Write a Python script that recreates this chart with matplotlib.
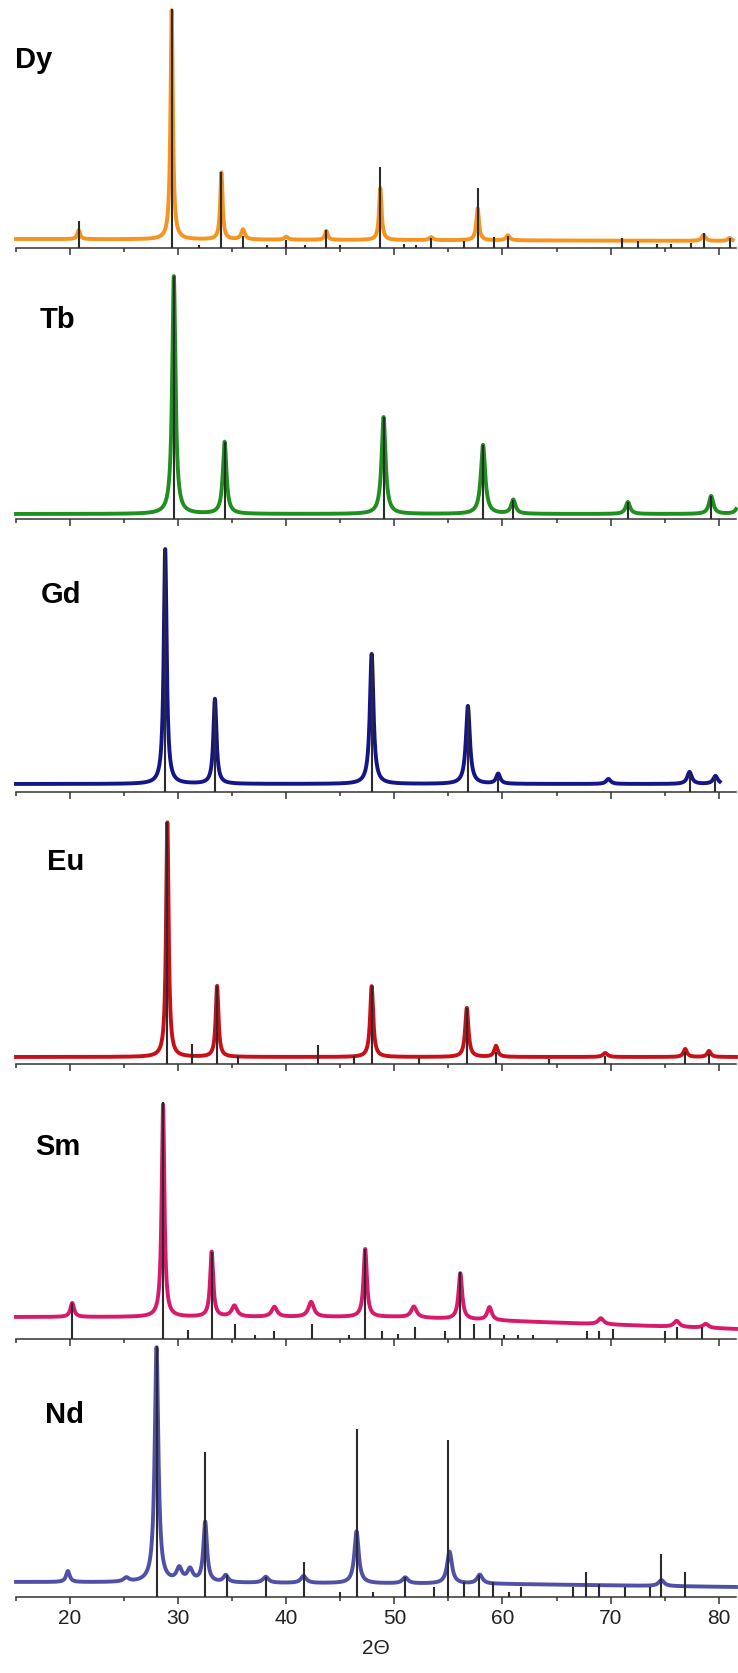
import matplotlib
matplotlib.use("Agg")
import matplotlib.pyplot as plt
import numpy as np

plt.rcParams["font.family"] = ["Liberation Sans", "DejaVu Sans"]

# ---- data (heights in px above each panel's axis line) ----
names = ["Dy", "Tb", "Gd", "Eu", "Sm", "Nd"]
colors = ["#f7941d", "#1f8f1f", "#15158a", "#c81018", "#d81a6c", "#5050a8"]

# baseline knots (2theta, level)
dy_base_x, dy_base_y = [15, 81.3], [9, 7]
tb_base_x, tb_base_y = [15, 81.6], [5, 5]
gd_base_x, gd_base_y = [15, 80.1], [8, 8]
eu_base_x, eu_base_y = [15, 81.6], [7, 7]
sm_base_x, sm_base_y = [15, 50, 81.6], [22, 22, 10]
nd_base_x, nd_base_y = [15, 60, 81.6], [15, 13, 10]

# measured peaks: position, height above background, half width
dy_pk_x = [20.8, 29.4, 34.0, 36.0, 40.0, 43.7, 48.7, 53.4, 57.7, 60.5, 78.6, 81.0]
dy_pk_h = [9, 230, 67, 10, 3, 9, 52, 3, 32, 5, 6, 3]
dy_pk_w = [0.15, 0.13, 0.13, 0.2, 0.2, 0.15, 0.14, 0.2, 0.15, 0.2, 0.2, 0.2]

tb_pk_x = [29.6, 34.3, 49.0, 58.2, 61.0, 71.6, 79.3, 81.9]
tb_pk_h = [238, 72, 97, 69, 14, 12, 18, 12]
tb_pk_w = [0.18, 0.2, 0.22, 0.24, 0.24, 0.24, 0.24, 0.24]

gd_pk_x = [28.8, 33.4, 47.9, 56.8, 59.6, 69.8, 77.3, 79.7]
gd_pk_h = [235, 85, 130, 78, 10, 5, 12, 8]
gd_pk_w = [0.16, 0.17, 0.2, 0.22, 0.22, 0.25, 0.25, 0.25]

eu_pk_x = [29.0, 33.6, 47.9, 56.7, 59.4, 69.5, 76.9, 79.1]
eu_pk_h = [235, 71, 71, 49, 11, 4, 8, 6]
eu_pk_w = [0.14, 0.15, 0.17, 0.18, 0.2, 0.25, 0.2, 0.2]

sm_pk_x = [20.2, 28.6, 33.1, 35.2, 38.9, 42.3, 47.3, 51.8, 56.1, 58.8, 69.1, 76.1, 78.8]
sm_pk_h = [14, 213, 65, 11, 10, 15, 68, 11, 46, 13, 6, 6, 4]
sm_pk_w = [0.2, 0.15, 0.17, 0.3, 0.3, 0.3, 0.18, 0.3, 0.2, 0.25, 0.3, 0.3, 0.3]

nd_pk_x = [19.8, 25.2, 28.0, 30.1, 31.1, 32.5, 34.4, 38.1, 41.6, 46.5, 51.0, 55.1, 57.9, 74.7]
nd_pk_h = [11, 4, 235, 13, 12, 60, 7, 6, 7, 52, 6, 32, 9, 6]
nd_pk_w = [0.2, 0.3, 0.2, 0.3, 0.3, 0.2, 0.25, 0.3, 0.3, 0.24, 0.3, 0.27, 0.3, 0.3]

# reference pattern sticks: position, height
dy_st_x = [20.8, 29.4, 31.9, 34.0, 36.0, 38.2, 40.0, 41.7, 43.7, 45.0, 48.7, 50.9, 52.0,
           53.4, 56.4, 57.7, 59.2, 60.5, 71.1, 72.5, 74.3, 75.6, 77.4, 78.6, 81.0]
dy_st_h = [27, 239, 3, 76, 12, 3, 8, 3, 18, 3, 81, 4, 3,
           10, 7, 60, 11, 12, 10, 7, 4, 4, 5, 15, 10]

tb_st_x = [29.6, 34.3, 49.0, 58.2, 61.0, 71.6, 79.3]
tb_st_h = [243, 77, 102, 74, 19, 17, 23]

gd_st_x = [28.8, 33.4, 47.9, 56.8, 59.6, 77.3, 79.7]
gd_st_h = [243, 93, 138, 86, 15, 18, 14]

eu_st_x = [29.0, 31.3, 33.6, 35.5, 42.9, 46.3, 47.9, 52.3, 56.7, 59.4, 64.3, 69.5, 76.9, 79.1]
eu_st_h = [242, 20, 78, 8, 19, 8, 78, 6, 56, 12, 5, 8, 12, 10]

sm_st_x = [20.2, 28.6, 30.9, 33.1, 35.3, 37.1, 38.9, 42.4, 45.8, 47.3, 48.9, 50.3, 51.9,
           54.7, 56.1, 57.4, 58.8, 60.1, 61.4, 62.8, 67.8, 68.9, 70.2, 75.0, 76.1, 78.5]
sm_st_h = [36, 237, 9, 87, 15, 4, 8, 15, 4, 90, 8, 5, 12,
           8, 67, 15, 15, 4, 4, 4, 8, 8, 10, 8, 12, 12]

nd_st_x = [28.0, 32.5, 34.5, 38.1, 41.6, 45.0, 46.5, 48.0, 51.0, 53.7, 55.0, 56.4, 57.8,
           59.1, 60.6, 61.7, 66.5, 67.7, 68.9, 71.3, 73.6, 74.7, 76.9]
nd_st_h = [251, 145, 22, 20, 35, 5, 168, 5, 20, 10, 157, 15, 22,
           15, 5, 10, 10, 25, 13, 10, 10, 43, 25]

# layout: axis line position (px from top) and label anchor per panel
axis_px = [249, 520, 793, 1065, 1340, 1598]
label_px = [(15, 60), (40, 320), (41, 595), (47, 862), (35, 1147), (45, 1415)]

bases = [(dy_base_x, dy_base_y), (tb_base_x, tb_base_y), (gd_base_x, gd_base_y),
         (eu_base_x, eu_base_y), (sm_base_x, sm_base_y), (nd_base_x, nd_base_y)]
peaks = [(dy_pk_x, dy_pk_h, dy_pk_w), (tb_pk_x, tb_pk_h, tb_pk_w), (gd_pk_x, gd_pk_h, gd_pk_w),
         (eu_pk_x, eu_pk_h, eu_pk_w), (sm_pk_x, sm_pk_h, sm_pk_w), (nd_pk_x, nd_pk_h, nd_pk_w)]
sticks = [(dy_st_x, dy_st_h), (tb_st_x, tb_st_h), (gd_st_x, gd_st_h),
          (eu_st_x, eu_st_h), (sm_st_x, sm_st_h), (nd_st_x, nd_st_h)]

W, H = 738, 1674
panel_h = 250
x0_px, x1_px = 16, 736

fig = plt.figure(figsize=(W / 100, H / 100), dpi=100)

for i, name in enumerate(names):
    ax = fig.add_axes([x0_px / W, 1 - axis_px[i] / H, (x1_px - x0_px) / W, panel_h / H])
    bx, by = bases[i]
    x = np.linspace(bx[0], bx[-1], 4000)
    y = np.interp(x, bx, by)
    for p, h, w in zip(*peaks[i]):
        y = y + h / (1 + ((x - p) / w) ** 2)
    ax.plot(x, y, color=colors[i], lw=2.8, solid_joinstyle="round", clip_on=False, zorder=2)
    sx, sh = sticks[i]
    ax.vlines(sx, 0, sh, color="#2b2b2b", lw=1.5, zorder=3, clip_on=False)

    ax.set_xlim(15, 81.6)
    ax.set_ylim(0, panel_h)
    for s in ["left", "top", "right"]:
        ax.spines[s].set_visible(False)
    ax.spines["bottom"].set_color("#333333")
    ax.spines["bottom"].set_linewidth(1.1)
    ax.set_yticks([])
    ax.set_xticks(np.arange(20, 81, 10))
    ax.set_xticks(np.arange(15, 81, 10), minor=True)
    ax.tick_params(axis="x", which="major", direction="out", length=5, width=1.1,
                   color="#333333", labelsize=15, labelcolor="#222222", pad=3)
    ax.tick_params(axis="x", which="minor", direction="out", length=3, width=1.1, color="#333333")
    ax.patch.set_visible(False)
    if i < len(names) - 1:
        ax.tick_params(axis="x", labelbottom=False)
    else:
        ax.set_xlabel("2\u0398", fontsize=15, color="#222222", labelpad=8)

    lx, ly = label_px[i]
    fig.text(lx / W, 1 - ly / H, name, fontsize=21, fontweight="bold",
             ha="left", va="center", color="black")

fig.savefig("out.png", dpi=100)
